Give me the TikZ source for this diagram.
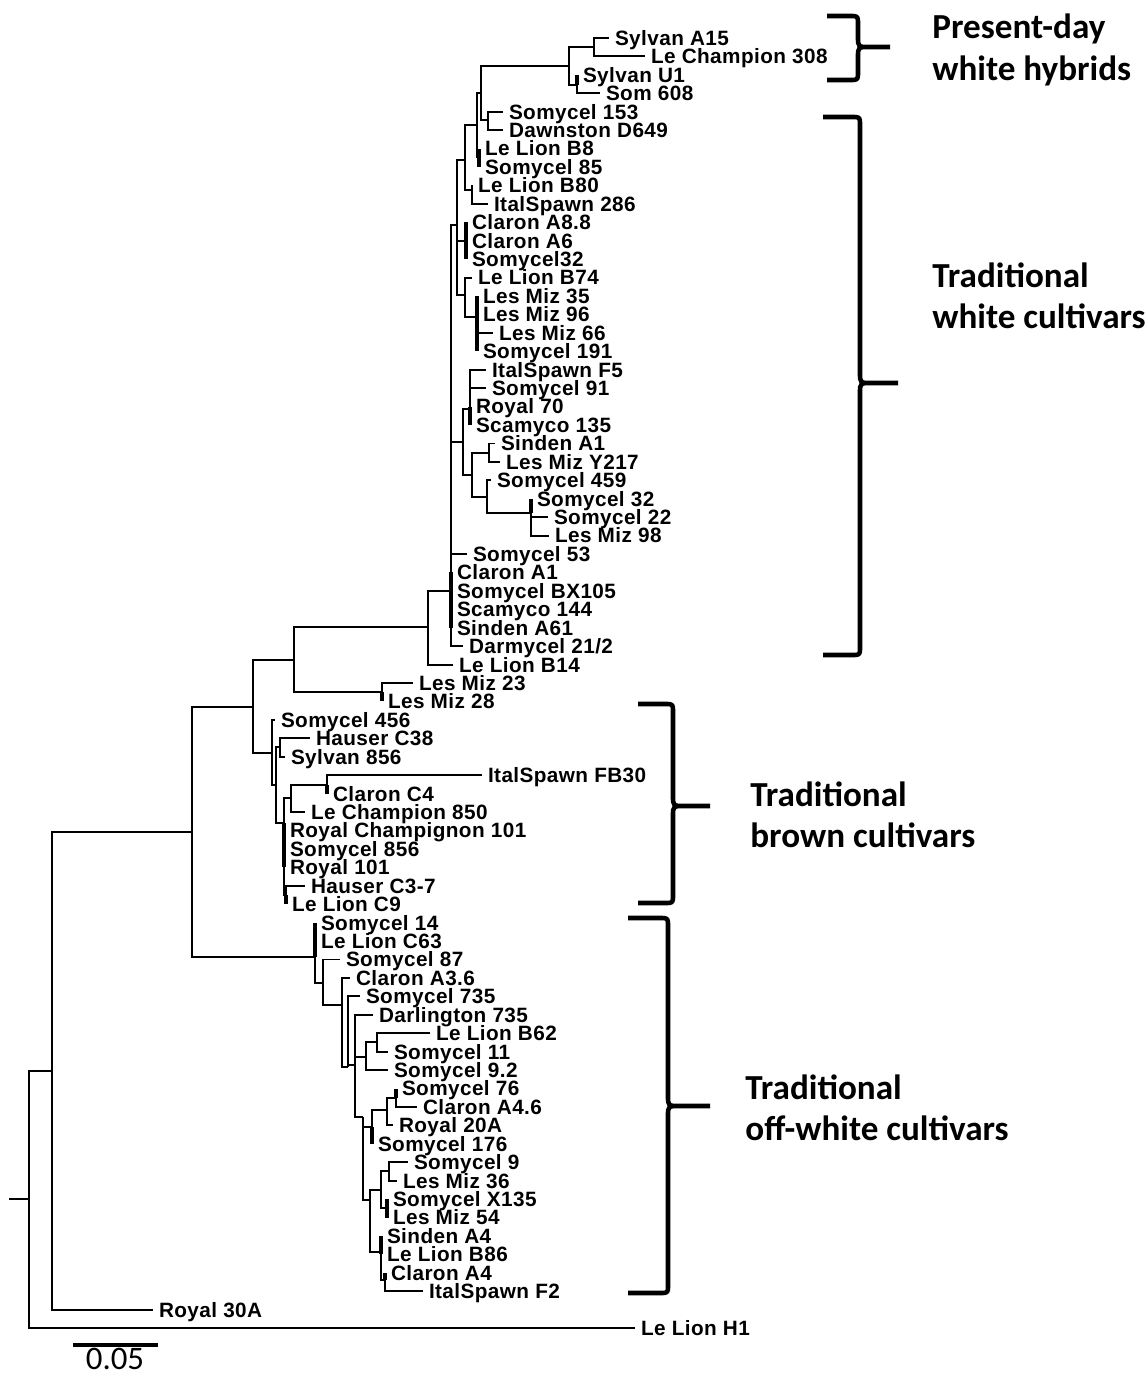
\documentclass[tikz,border=0pt]{standalone}
\usepackage{fontspec}
\setmainfont{Carlito}
\newfontfamily\leaffont[LetterSpace=2]{Liberation Sans}

\tikzset{
  branch/.style={line width=1.1pt},
  zerobranch/.style={line width=2.1pt},
  fork/.style={inner sep=0pt, outer sep=0pt, minimum size=0pt},
  leaf/.style={anchor=west, inner xsep=0.12cm, inner ysep=0pt, outer sep=0pt,
    text height=8.4pt, text depth=0pt, font=\leaffont\bfseries\fontsize{11.8}{12}\selectfont},
  group/.style={anchor=west, align=left, inner sep=0pt, font=\bfseries\fontsize{20}{23.5}\selectfont},
  bracket/.style={line width=2.6pt, line join=round}
}

\begin{document}
\begin{tikzpicture}[x=0.02cm, y=-0.02cm]
\useasboundingbox (0,0) rectangle (1146,1376);

% tips of the tree
\foreach \nm/\idx/\xe/\lab in {
  lA15/0/609/Sylvan A15, lC308/1/645/Le Champion 308, lU1/2/577/Sylvan U1, l608/3/600/Som 608,
  l153/4/503/Somycel 153, lD649/5/503/Dawnston D649, lB8/6/479/Le Lion B8, l85/7/479/Somycel 85,
  lB80/8/472/Le Lion B80, l286/9/488/ItalSpawn 286, lA88/10/466/Claron A8.8, lA6/11/466/Claron A6,
  l32a/12/466/Somycel32, lB74/13/472/Le Lion B74, lM35/14/477/Les Miz 35, lM96/15/477/Les Miz 96,
  lM66/16/493/Les Miz 66, l191/17/477/Somycel 191, lF5/18/486/ItalSpawn F5, l91/19/486/Somycel 91,
  lR70/20/470/Royal 70, l135/21/470/Scamyco 135, lA1/22/495/Sinden A1, lY217/23/500/Les Miz Y217,
  l459/24/491/Somycel 459, l32b/25/531/Somycel 32, l22/26/548/Somycel 22, lM98/27/549/Les Miz 98,
  l53/28/467/Somycel 53, lCA1/29/451/Claron A1, lBX/30/451/Somycel BX105, l144/31/451/Scamyco 144,
  lA61/32/451/Sinden A61, lD21/33/463/{Darmycel 21/2}, lB14/34/453/Le Lion B14,
  lM23/35/413/Les Miz 23, lM28/36/382/Les Miz 28, l456/37/275/Somycel 456, lC38/38/310/Hauser C38,
  l856a/39/285/Sylvan 856, lFB30/40/482/ItalSpawn FB30, lC4/41/327/Claron C4,
  lC850/42/305/Le Champion 850, lRC/43/284/Royal Champignon 101, l856b/44/284/Somycel 856,
  lR101/45/284/Royal 101, lC37/46/305/Hauser C3-7, lC9/47/286/Le Lion C9,
  l14/48/315/Somycel 14, lC63/49/315/Le Lion C63, l87/50/340/Somycel 87, lA36/51/350/Claron A3.6,
  l735a/52/360/Somycel 735, l735b/53/373/Darlington 735, lB62/54/430/Le Lion B62,
  l11/55/388/Somycel 11, l92/56/388/Somycel 9.2, l76/57/396/Somycel 76, lA46/58/417/Claron A4.6,
  lR20/59/393/Royal 20A, l176/60/372/Somycel 176, l9/61/408/Somycel 9, lM36/62/397/Les Miz 36,
  lX135/63/387/Somycel X135, lM54/64/387/Les Miz 54, lA4/65/381/Sinden A4, lB86/66/381/Le Lion B86,
  lCA4/67/385/Claron A4, lF2/68/423/ItalSpawn F2, lR30/69/153/Royal 30A, lH1/70/635/Le Lion H1}
  \node[leaf] (\nm) at (\xe, 38+18.43*\idx) {\lab};

% inner nodes
\foreach \nm/\xf/\yf in {
  stub/9/1199, root/29/1199, r2/52/1071, r1/192/832, z/253/707, y/294/660, x/428/627, w/451/591,
  m1/457/225, d/465/160, a/477/125, p/481/93, hy/569/66, sa/594/47, su/577/85, q/488/120,
  b/479/157, c/472/190, k/466/241, l/465/295, lm/477/317, n1/463/442, e/470/409, f/472/475,
  sn/489/453, g/487/497, h/531/513, lmz/382/692, br/272/753, hc/280/747, br2/276/785,
  br3/284/823, cc/291/798, iff/327/785, hl/286/895, ow/315/957, o2/323/983, o3/342/1005,
  o4/348/1067, o5/355/1065, n92/366/1057, b62/377/1042, o6/363/1117, x176/372/1127,
  r20/387/1110, s76/396/1098, o7/370/1200, q1/381/1190, s9/389/1171, x135/387/1208,
  sa4/381/1252, f2/385/1280}
  \node[fork] (\nm) at (\xf,\yf) {};

\draw[branch] (stub.center) -- (root.center);

% branches
\foreach \p/\c in {
  root/r2, root/lH1, r2/r1, r2/lR30, r1/z, r1/ow, z/y, z/br, y/x, y/lmz, lmz/lM23,
  x/w, x/lB14, w/m1, w/n1, w/l53, w/lD21,
  m1/d, m1/k, m1/l, d/a, d/c, a/p, a/b, p/hy, p/q, hy/sa, hy/su, sa/lA15, sa/lC308,
  su/l608, q/l153, q/lD649, c/lB80, c/l286, l/lB74, l/lm, lm/lM66,
  n1/e, n1/f, e/lF5, e/l91, f/sn, f/g, sn/lA1, sn/lY217, g/l459, g/h, h/l22, h/lM98,
  br/l456, br/br2, br2/hc, br2/br3, hc/lC38, hc/l856a, br3/cc, br3/hl, cc/iff, cc/lC850,
  iff/lFB30, hl/lC37,
  ow/o2, o2/l87, o2/o3, o3/lA36, o3/o4, o4/l735a, o4/o5, o5/l735b, o5/n92, o5/o6,
  n92/b62, n92/l92, b62/lB62, b62/l11, o6/x176, o6/o7, x176/r20, r20/s76, r20/lR20,
  s76/lA46, o7/q1, o7/sa4, q1/s9, q1/x135, s9/l9, s9/lM36, sa4/f2, f2/lF2}
  \draw[branch] (\p.center) |- (\c.west);

% zero length branches
\foreach \p/\c in {
  su/lU1, b/lB8, b/l85, k/lA88, k/lA6, k/l32a, lm/lM35, lm/lM96, lm/l191, e/lR70, e/l135,
  h/l32b, w/lCA1, w/lBX, w/l144, w/lA61, lmz/lM28, iff/lC4, br3/lRC, br3/l856b, br3/lR101,
  hl/lC9, ow/l14, ow/lC63, s76/l76, x176/l176, x135/lX135, x135/lM54, sa4/lA4, sa4/lB86,
  f2/lCA4}
  \draw[zerobranch] (\p.center) |- (\c.west);

% clade brackets
\foreach \xl/\xs/\xt/\ya/\ym/\yb in {827/858/890/16/47/80, 823/860/898/117/383/655,
  638/673/710/704/806/903, 628/668/710/918/1106/1293}
  \draw[bracket] (\xl,\ya) -- (\xs-8,\ya) .. controls (\xs,\ya) .. (\xs,\ya+8) -- (\xs,\ym-10)
    .. controls (\xs,\ym) .. (\xs+12,\ym) -- (\xt,\ym) (\xs+12,\ym) .. controls (\xs,\ym) .. (\xs,\ym+10)
    -- (\xs,\yb-8) .. controls (\xs,\yb) .. (\xs-8,\yb) -- (\xl,\yb);

\node[group] (gPresent) at (932,50) {Present-day\\white hybrids};
\node[group] (gWhite) at (932,296) {Traditional\\white cultivars};
\node[group] (gBrown) at (750,815) {Traditional\\brown cultivars};
\node[group] (gOff) at (745,1108) {Traditional\\off-white cultivars};

% scale bar
\node[fork] (sbA) at (73,1345) {};
\node[fork] (sbB) at (158,1345) {};
\draw[line width=1.8pt] (sbA.center) -- (sbB.center);
\node[font=\fontsize{18.7}{20}\selectfont, inner sep=0pt] (sbLabel) at (115,1359) {0.05};
\end{tikzpicture}
\end{document}
